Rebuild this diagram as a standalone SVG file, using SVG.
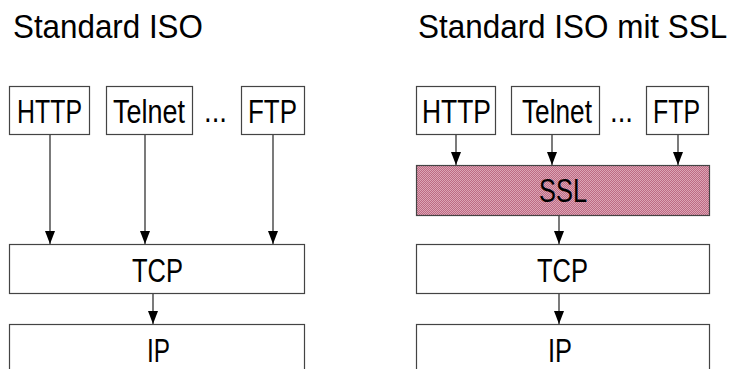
<svg xmlns="http://www.w3.org/2000/svg" width="733" height="369" viewBox="0 0 733 369">
<style>
.box{fill:#fff;stroke:#444;stroke-width:1.2}
.ssl{fill:url(#chk);stroke:#444;stroke-width:1.2}
.t{font-family:"Liberation Sans",Arial,sans-serif;font-size:33px;fill:#000;text-anchor:start}
.title{font-family:"Liberation Sans",Arial,sans-serif;font-size:34px;fill:#000}
.c{stroke:#222;stroke-width:1.2;fill:none;marker-end:url(#ah)}
</style>
<defs>
<marker id="ah" viewBox="0 0 13 10" refX="13" refY="5" markerWidth="13" markerHeight="10" markerUnits="userSpaceOnUse" orient="auto">
<path d="M0,0 L13,5 L0,10 z" fill="#000"/>
</marker>
<pattern id="chk" width="2" height="2" patternUnits="userSpaceOnUse">
<rect width="2" height="2" fill="#bd6a83"/>
<rect width="1" height="1" fill="#dca5b5"/>
<rect x="1" y="1" width="1" height="1" fill="#dca5b5"/>
</pattern>
</defs>
<text class="title" transform="translate(13,38) scale(0.922,1)">Standard ISO</text>
<text class="title" transform="translate(418,38) scale(0.925,1)">Standard ISO mit SSL</text>

<g id="connectors">
<line class="c" x1="50" y1="134" x2="50" y2="244"/>
<line class="c" x1="145" y1="134" x2="145" y2="244"/>
<line class="c" x1="273" y1="134" x2="273" y2="244"/>
<line class="c" x1="153" y1="293" x2="153" y2="324"/>
<line class="c" x1="456" y1="134" x2="456" y2="165"/>
<line class="c" x1="552" y1="134" x2="552" y2="165"/>
<line class="c" x1="678" y1="134" x2="678" y2="165"/>
<line class="c" x1="559" y1="215" x2="559" y2="244"/>
<line class="c" x1="559" y1="293" x2="559" y2="324"/>
</g>

<g id="l-http"><rect class="box" x="9.5" y="86.5" width="80" height="48"/><text class="t" x="17" y="123" textLength="65" lengthAdjust="spacingAndGlyphs">HTTP</text></g>
<g id="l-telnet"><rect class="box" x="106.5" y="86.5" width="86" height="48"/><text class="t" x="113" y="123" textLength="72" lengthAdjust="spacingAndGlyphs">Telnet</text></g>
<g id="l-dots"><text class="t" x="204" y="122" textLength="23" lengthAdjust="spacingAndGlyphs">...</text></g>
<g id="l-ftp"><rect class="box" x="241.5" y="86.5" width="63" height="48"/><text class="t" x="248" y="123" textLength="49" lengthAdjust="spacingAndGlyphs">FTP</text></g>
<g id="l-tcp"><rect class="box" x="9.5" y="244.5" width="295" height="49"/><text class="t" x="132" y="282" textLength="51" lengthAdjust="spacingAndGlyphs">TCP</text></g>
<g id="l-ip"><rect class="box" x="9.5" y="324.5" width="295" height="60"/><text class="t" x="147" y="362" textLength="23" lengthAdjust="spacingAndGlyphs">IP</text></g>

<g id="r-http"><rect class="box" x="416.5" y="86.5" width="79" height="48"/><text class="t" x="422" y="123" textLength="69" lengthAdjust="spacingAndGlyphs">HTTP</text></g>
<g id="r-telnet"><rect class="box" x="511.5" y="86.5" width="88" height="48"/><text class="t" x="522" y="123" textLength="70" lengthAdjust="spacingAndGlyphs">Telnet</text></g>
<g id="r-dots"><text class="t" x="610" y="122" textLength="23" lengthAdjust="spacingAndGlyphs">...</text></g>
<g id="r-ftp"><rect class="box" x="646.5" y="86.5" width="62" height="48"/><text class="t" x="653" y="123" textLength="47" lengthAdjust="spacingAndGlyphs">FTP</text></g>
<g id="r-ssl"><rect class="ssl" x="416.5" y="165.5" width="293" height="50"/><text class="t" x="539" y="202" textLength="48" lengthAdjust="spacingAndGlyphs">SSL</text></g>
<g id="r-tcp"><rect class="box" x="416.5" y="244.5" width="293" height="49"/><text class="t" x="537" y="282" textLength="51" lengthAdjust="spacingAndGlyphs">TCP</text></g>
<g id="r-ip"><rect class="box" x="416.5" y="324.5" width="293" height="60"/><text class="t" x="548" y="362" textLength="24" lengthAdjust="spacingAndGlyphs">IP</text></g>
</svg>
